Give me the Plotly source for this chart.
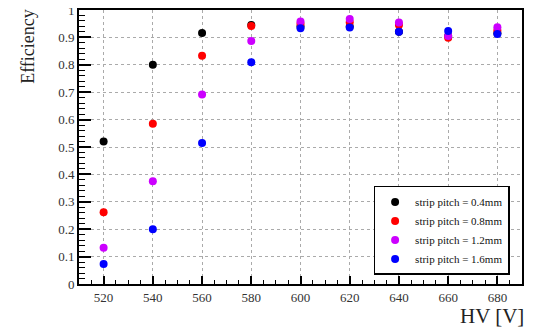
import plotly.graph_objects as go

hv = [520, 540, 560, 580, 600, 620, 640, 660, 680]
eff_04 = [0.52, 0.80, 0.916, 0.945, 0.94, 0.94, 0.921, 0.905, 0.915]
eff_08 = [0.262, 0.585, 0.833, 0.942, 0.95, 0.955, 0.945, 0.899, 0.925]
eff_12 = [0.132, 0.375, 0.692, 0.887, 0.958, 0.967, 0.954, 0.905, 0.937]
eff_16 = [0.073, 0.200, 0.515, 0.809, 0.933, 0.936, 0.921, 0.923, 0.912]

names = ["strip pitch = 0.4mm", "strip pitch = 0.8mm",
         "strip pitch = 1.2mm", "strip pitch = 1.6mm"]
colors = ["#000000", "#ff0000", "#cc00ff", "#0000ff"]
series = [eff_04, eff_08, eff_12, eff_16]

fig = go.Figure()
for name, col, ys in zip(names, colors, series):
    fig.add_trace(go.Scatter(x=hv, y=ys, mode="markers", name=name,
                             marker=dict(color=col, size=8, line=dict(width=0))))

serif = "Liberation Serif, Times New Roman, serif"
# page body has an 8px margin, so the figure is 8px smaller than the window
fig.update_layout(
    width=529, height=328,
    margin=dict(l=71, r=15, t=2, b=52, autoexpand=False),
    paper_bgcolor="white", plot_bgcolor="white",
    font=dict(family=serif, size=13, color="#222"),
    showlegend=True,
    legend=dict(x=0.665, y=0.358, xanchor="left", yanchor="top",
                bordercolor="black", borderwidth=1.5, bgcolor="white",
                font=dict(family=serif, size=11, color="#111"),
                itemwidth=30, tracegroupgap=0),
    xaxis=dict(range=[510, 690], dtick=20, tick0=520, automargin=False,
               showline=True, linecolor="black", linewidth=2, mirror=True,
               ticks="inside", ticklen=8, tickwidth=1.5, tickcolor="black",
               showgrid=True, gridcolor="#aaa", griddash="dot", gridwidth=1,
               zeroline=False, ticklabeloverflow="allow",
               minor=dict(dtick=5, ticks="inside", ticklen=4, tickcolor="black", tickwidth=1.2, showgrid=False),
               tickfont=dict(family=serif, size=13, color="#333")),
    yaxis=dict(range=[0, 1], dtick=0.1, tick0=0, automargin=False,
               showline=True, linecolor="black", linewidth=2, mirror=True,
               ticks="inside", ticklen=12, tickwidth=1.5, tickcolor="black",
               showgrid=True, gridcolor="#aaa", griddash="dot", gridwidth=1,
               zeroline=False, ticklabeloverflow="allow",
               minor=dict(dtick=0.02, ticks="inside", ticklen=6, tickcolor="black", tickwidth=1.2, showgrid=False),
               tickfont=dict(family=serif, size=13, color="#333")),
)

fig.add_annotation(text="Efficiency", xref="paper", yref="paper",
                   x=-0.115, y=1.01, xanchor="center", yanchor="top",
                   textangle=-90, showarrow=False,
                   font=dict(family=serif, size=18, color="#222"))
fig.add_annotation(text="HV [V]", xref="paper", yref="paper",
                   x=1.008, y=-0.065, xanchor="right", yanchor="top",
                   showarrow=False,
                   font=dict(family=serif, size=21, color="#222"))
fig.add_annotation(text="1", xref="paper", yref="paper",
                   x=1.013, y=-0.075, xanchor="left", yanchor="top",
                   showarrow=False,
                   font=dict(family="DejaVu Sans", size=24, color="#666"))

fig.write_html("out.html")
